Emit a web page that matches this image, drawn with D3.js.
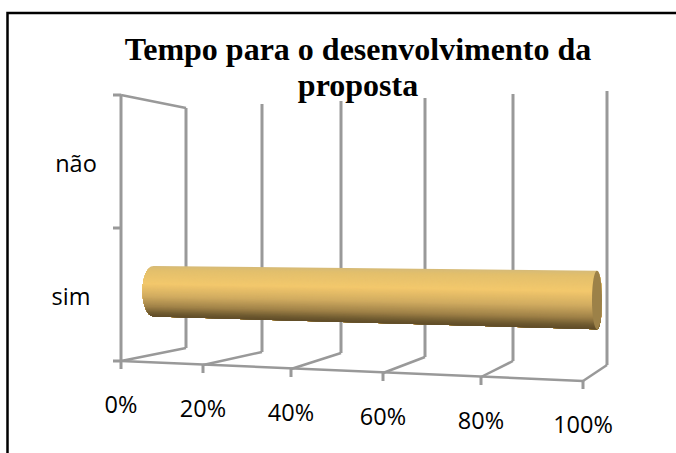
<!DOCTYPE html>
<html lang="en">
<head>
    <meta charset="UTF-8">
    <title>Tempo para o desenvolvimento da proposta</title>
    <script src="https://d3js.org/d3.v7.min.js"></script>
    <style>
        html, body { margin: 0; padding: 0; background: #fff; overflow: hidden; }
        svg { display: block; }
        .title { font-family: "Liberation Serif", serif; font-weight: bold; font-size: 32px; fill: #000; text-anchor: middle; }
        .label { font-family: "Open Sans", sans-serif; font-size: 23.5px; fill: #000; text-anchor: middle; }
        .wall { fill: none; stroke: #999; stroke-width: 3; }
    </style>
</head>
<body>
    <div id="chart"></div>

    <script>
        const categories = ["não", "sim"];
        const values = [0, 100];
        const percentTicks = [0, 20, 40, 60, 80, 100];
        const titleLines = ["Tempo para o desenvolvimento da", "proposta"];

        const width = 676, height = 453;

        const svg = d3.select("#chart").append("svg")
            .attr("width", width)
            .attr("height", height);

        // the 3d box is in perspective so each edge gets its own piecewise scale
        const xFront = d3.scaleLinear().domain(percentTicks).range([121, 203, 291, 383, 481, 583]);
        const xBack = d3.scaleLinear().domain(percentTicks).range([186, 262, 341, 425, 513, 607]);
        const floorFront = d3.scaleLinear().domain([0, 100]).range([361, 381]);
        const floorBack = d3.scaleLinear().domain(percentTicks).range([348, 352, 353, 357, 361, 365]);
        const topBack = d3.scaleLinear().domain(percentTicks).range([108, 104, 101, 98, 94, 91]);
        const topFront = d3.scaleLinear().domain([0, 100]).range([95, 71]);

        // y position inside the box: 0 = bottom, 1 = top, depth 0 = front, 1 = back
        const band = d3.scaleBand().domain(categories).range([1, 0]);
        const lerp = d3.interpolateNumber;
        function project(v, level, depth) {
            const bottom = lerp(floorFront(v), floorBack(v))(depth);
            const top = lerp(topFront(v), topBack(v))(depth);
            return [lerp(xFront(v), xBack(v))(depth), lerp(bottom, top)(level)];
        }

        const line = d3.line();

        // back wall lines and floor lines
        percentTicks.forEach(t => {
            svg.append("path").attr("class", "wall")
                .attr("d", line([project(t, 0, 1), project(t, 1, 1)]));
            svg.append("path").attr("class", "wall")
                .style("stroke-width", 2.5)
                .attr("d", line([project(t, 0, 0), project(t, 0, 1)]));
            const p = project(t, 0, 0);
            svg.append("path").attr("class", "wall")
                .attr("d", line([p, [p[0], p[1] + 8]]));
        });

        // front floor edge, left wall
        svg.append("path").attr("class", "wall")
            .style("stroke-width", 2.5)
            .attr("d", line([project(0, 0, 0), project(100, 0, 0)]));
        svg.append("path").attr("class", "wall")
            .attr("d", line([project(0, 0, 0), project(0, 1, 0)]));
        svg.append("path").attr("class", "wall")
            .style("stroke-width", 2.5)
            .attr("d", line([project(0, 1, 0), project(0, 1, 1)]));

        // category ticks on the left wall
        [0, 0.5, 1].forEach(l => {
            const p = project(0, l, 0);
            svg.append("path").attr("class", "wall")
                .attr("d", line([[p[0] - 8, p[1]], p]));
        });

        // cylinder drawn as stacked strips so the shading follows the taper
        const shade = d3.scaleLinear()
            .domain([0, 0.08, 0.35, 0.6, 0.8, 0.93, 1])
            .range(["#d6bb78", "#e2bf6c", "#f3c86c", "#d0ab60", "#a08248", "#6f5a30", "#5f4c28"])
            .interpolate(d3.interpolateRgb);
        const capColor = "#9c8148";
        const barSize = 0.4;
        const rxEnd = d3.scaleLinear().domain([0, 100]).range([11, 5]);

        categories.forEach((c, i) => {
            if (values[i] <= 0) return;
            const v = values[i];
            const mid = band(c) + band.bandwidth() / 2;
            const half = band.bandwidth() * barSize / 2;
            const a0 = project(0, mid + half, 0.5), a1 = project(0, mid - half, 0.5);
            const b0 = project(v, mid + half, 0.5), b1 = project(v, mid - half, 0.5);
            const ax = a0[0], bx = b0[0] + 2;
            const ra = rxEnd(0), rb = rxEnd(v);
            const strips = 60;
            for (let s = 0; s < strips; s++) {
                const pts = [];
                // painter's order: each strip reaches down to the bottom to hide seams
                for (let k = s; k <= strips; k++) {
                    const t = k / strips;
                    const e = Math.sqrt(Math.max(0, 1 - (2 * t - 1) ** 2));
                    pts.push([ax - ra * e, lerp(a0[1], a1[1])(t)]);
                }
                for (let k = strips; k >= s; k--) {
                    const t = k / strips;
                    const e = Math.sqrt(Math.max(0, 1 - (2 * t - 1) ** 2));
                    pts.push([bx + rb * e, lerp(b0[1], b1[1])(t)]);
                }
                svg.append("path")
                    .attr("d", line(pts) + "Z")
                    .attr("fill", shade((s + 0.5) / strips));
            }
            svg.append("ellipse")
                .attr("cx", bx).attr("cy", (b0[1] + b1[1]) / 2)
                .attr("rx", rb).attr("ry", (b1[1] - b0[1]) / 2)
                .attr("fill", capColor);
        });

        // text
        svg.selectAll(".title").data(titleLines).enter().append("text")
            .attr("class", "title")
            .attr("x", 358)
            .attr("y", (d, i) => 60 + i * 36)
            .text(d => d);

        const catY = d3.scalePoint().domain(categories).range([172, 305]);
        const catX = d3.scalePoint().domain(categories).range([76, 71]);
        svg.selectAll(".cat").data(categories).enter().append("text")
            .attr("class", "label")
            .attr("x", d => catX(d))
            .attr("y", d => catY(d))
            .text(d => d);

        svg.selectAll(".pct").data(percentTicks).enter().append("text")
            .attr("class", "label")
            .attr("x", d => xFront(d))
            .attr("y", d => floorFront(d) + 52)
            .text(d => d + "%");

        // outer frame, only top and left are visible
        svg.append("path")
            .attr("d", line([[7.5, height], [7.5, 13], [width, 13]]))
            .attr("fill", "none")
            .attr("stroke", "#000")
            .attr("stroke-width", 2.5);
    </script>
</body>
</html>
